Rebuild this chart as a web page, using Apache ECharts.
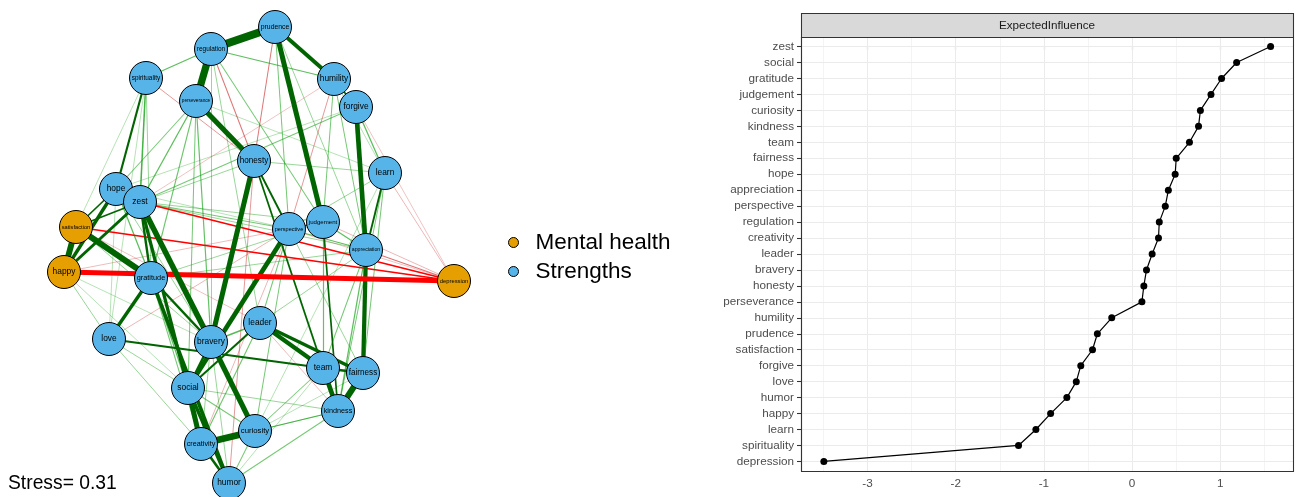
<!DOCTYPE html>
<html><head><meta charset="utf-8">
<script src="https://cdn.jsdelivr.net/npm/echarts@6/dist/echarts.min.js"></script>
<style>html,body{margin:0;padding:0;background:#fff}#c{width:1296px;height:497px}</style>
</head><body><div id="c"></div>
<script>
// ---------- Centrality plot data ----------
const categories = ['zest','social','gratitude','judgement','curiosity','kindness','team','fairness','hope','appreciation','perspective','regulation','creativity','leader','bravery','honesty','perseverance','humility','prudence','satisfaction','forgive','love','humor','happy','learn','spirituality','depression'];
const expectedInfluence = [1.57,1.185,1.014,0.894,0.774,0.753,0.65,0.50,0.488,0.411,0.376,0.308,0.299,0.227,0.163,0.133,0.111,-0.231,-0.394,-0.449,-0.582,-0.633,-0.740,-0.924,-1.091,-1.288,-3.495];
const xTickValues = [-3,-2,-1,0,1];
const xMinorValues = [-3.5,-2.5,-1.5,-0.5,0.5,1.5];
const stripTitle = 'ExpectedInfluence';

// ---------- Network data ----------
const groupNames = ['Mental health','Strengths'];
const nodeNames = ['prudence','regulation','spirituality','humility','perseverance','forgive','honesty','learn','hope','zest','satisfaction','judgement','perspective','appreciation','happy','gratitude','depression','leader','love','bravery','team','fairness','social','kindness','curiosity','creativity','humor'];
const nodeGroup = [1,1,1,1,1,1,1,1,1,1,0,1,1,1,0,1,0,1,1,1,1,1,1,1,1,1,1];
const nodeX = [275,211,146,334,196,356,254,385,116,140,76,323,289,366,64,151,454,260,109,211,323,363,188,338,255,201,229];
const nodeY = [27,49,78,79,101,107,161,173,189,202,227,222,229,250,272,278,281,323,339,342,368,373,388,411,431,444,483];
const edges = [
 ['regulation','prudence',0.95],['regulation','perseverance',0.85],['creativity','curiosity',0.8],
 ['satisfaction','gratitude',0.7],['happy','satisfaction',0.7],['fairness','kindness',0.7],
 ['zest','bravery',0.65],['happy','depression',-0.6],['perseverance','honesty',0.6],
 ['prudence','judgement',0.6],['bravery','curiosity',0.6],['honesty','bravery',0.6],
 ['social','creativity',0.6],['team','kindness',0.55],['perspective','social',0.55],
 ['forgive','appreciation',0.55],['appreciation','fairness',0.5],['leader','team',0.5],
 ['prudence','humility',0.45],['gratitude','humor',0.42],['zest','social',0.38],['leader','fairness',0.4],
 ['hope','happy',0.4],['gratitude','love',0.4],['social','humor',0.4],['zest','happy',0.35],
 ['creativity','humor',0.3],['gratitude','bravery',0.3],['team','fairness',0.3],
 ['bravery','social',0.3],['zest','gratitude',0.28],['love','team',0.26],
 ['spirituality','hope',0.25],['leader','social',0.24],['honesty','perspective',0.22],
 ['learn','appreciation',0.22],['honesty','team',0.2],['judgement','kindness',0.2],
 ['perspective','judgement',0.2],['satisfaction','hope',0.2],['satisfaction','zest',0.2],
 ['forgive','humility',0.2],['zest','depression',-0.2],['satisfaction','depression',-0.2],
 ['regulation','humility',0.15],['regulation','spirituality',0.15],['spirituality','zest',0.18],
 ['perseverance','zest',0.15],['perseverance','hope',0.12],['perseverance','bravery',0.14],
 ['perseverance','social',0.12],['perseverance','gratitude',0.13],['perseverance','learn',0.08],
 ['judgement','appreciation',0.15],['judgement','team',0.14],['leader','bravery',0.16],
 ['leader','creativity',0.13],['curiosity','kindness',0.15],['humor','kindness',0.12],
 ['curiosity','team',0.12],['love','happy',0.1],['love','social',0.1],['love','creativity',0.1],
 ['love','hope',0.08],['forgive','learn',0.15],['forgive','zest',0.12],['forgive','hope',0.08],
 ['humility','appreciation',0.12],['humility','judgement',0.12],['humility','learn',0.08],
 ['prudence','perspective',0.12],['prudence','appreciation',0.1],['regulation','judgement',0.12],
 ['regulation','leader',0.1],['regulation','bravery',0.1],['spirituality','gratitude',0.1],
 ['spirituality','love',0.08],['spirituality','satisfaction',0.08],['honesty','fairness',0.1],
 ['honesty','kindness',0.1],['honesty','zest',0.1],['honesty','learn',0.1],
 ['perspective','appreciation',0.15],['perspective','leader',0.12],['perspective','curiosity',0.12],
 ['appreciation','kindness',0.15],['appreciation','team',0.12],['appreciation','leader',0.1],
 ['learn','perspective',0.1],['learn','kindness',0.12],['learn','fairness',0.12],['learn','curiosity',0.08],
 ['social','curiosity',0.12],['social','kindness',0.1],['creativity','kindness',0.08],
 ['creativity','bravery',0.1],['humor','curiosity',0.12],['humor','bravery',0.1],['humor','team',0.08],
 ['gratitude','social',0.15],['gratitude','creativity',0.12],['gratitude','judgement',0.1],
 ['gratitude','appreciation',0.1],['hope','bravery',0.1],['hope','gratitude',0.15],
 ['hope','perspective',0.08],['zest','perspective',0.12],['zest','judgement',0.1],
 ['zest','appreciation',0.1],['happy','bravery',0.08],['happy','social',0.08],
 ['satisfaction','bravery',0.1],['fairness','curiosity',0.08],
 ['regulation','honesty',-0.12],['prudence','honesty',-0.12],['spirituality','honesty',-0.1],
 ['humility','perspective',-0.1],['humility','zest',-0.06],['honesty','humor',-0.1],
 ['depression','appreciation',-0.12],['depression','judgement',-0.08],['depression','learn',-0.08],
 ['depression','forgive',-0.06],['depression','perspective',-0.06],['love','perspective',-0.08],
 ['happy','perspective',-0.07],['leader','kindness',-0.07],['satisfaction','leader',-0.06],
 ['creativity','perspective',-0.08]
];
const stressText = 'Stress= 0.31';

// ---------- styling helpers ----------
const FONT = '"Liberation Sans", Arial, Helvetica, sans-serif';
const groupColors = ['#E69F00', '#56B4E9'];
const ctx = document.createElement('canvas').getContext('2d');
function nodeLabelSize(name) {
  ctx.font = '10px "Liberation Sans", Arial';
  const em = ctx.measureText(name).width / 10;
  return Math.min(8.4, 28.5 / em);
}
const CUT = 0.2;
function edgeStyle(w) {
  const a = Math.abs(w);
  const width = Math.max(0.7, a * 8.5);
  let color;
  if (a >= CUT) color = w > 0 ? '#006400' : '#FF0000';
  else {
    const al = (0.15 + 0.65 * a / CUT).toFixed(3);
    color = w > 0 ? 'rgba(0,153,0,' + al + ')' : 'rgba(191,0,0,' + al + ')';
  }
  return { width: width, color: color, curveness: 0, opacity: 1 };
}
const idx = {};
nodeNames.forEach((n, i) => idx[n] = i);
const links = edges.slice().sort((a, b) => Math.abs(a[2]) - Math.abs(b[2])).map(e => ({
  source: idx[e[0]], target: idx[e[1]], lineStyle: edgeStyle(e[2])
}));

const P = { left: 801, top: 37, width: 492, height: 434 };
const gridMarks = []
  .concat(categories.map((c, i) => ({ yAxis: i, lineStyle: { color: '#EBEBEB', width: 1.07, type: 'solid' } })))
  .concat(xTickValues.map(v => ({ xAxis: v, lineStyle: { color: '#EBEBEB', width: 1.07, type: 'solid' } })))
  .concat(xMinorValues.map(v => ({ xAxis: v, lineStyle: { color: '#EBEBEB', width: 0.55, type: 'solid' } })));

const chart = echarts.init(document.getElementById('c'), null, { renderer: 'canvas' });
chart.setOption({
  animation: false,
  backgroundColor: '#fff',
  textStyle: { fontFamily: FONT },
  grid: [
    { left: P.left, top: P.top, width: P.width, height: P.height, show: false },
    { left: 0, top: 0, width: 500, height: 497, show: false }
  ],
  xAxis: [
    { gridIndex: 0, type: 'value', min: -3.754, max: 1.824, position: 'bottom',
      axisLine: { show: true, lineStyle: { color: '#333', width: 1.07 } },
      axisTick: { show: true, length: 4, customValues: xTickValues, lineStyle: { color: '#333', width: 1.07 } },
      axisLabel: { customValues: xTickValues, margin: 7, color: '#4D4D4D', fontSize: 11.7, fontFamily: FONT },
      splitLine: { show: false } },
    { gridIndex: 1, type: 'value', min: 0, max: 500, show: false }
  ],
  yAxis: [
    { gridIndex: 0, type: 'value', min: -0.6, max: 26.6, inverse: true,
      axisLine: { show: true, onZero: false, lineStyle: { color: '#333', width: 1.07 } },
      axisTick: { show: true, length: 4, customValues: categories.map((c, i) => i), lineStyle: { color: '#333', width: 1.07 } },
      axisLabel: { customValues: categories.map((c, i) => i), formatter: v => categories[Math.round(v)] || '',
        margin: 7, color: '#4D4D4D', fontSize: 11.7, fontFamily: FONT },
      splitLine: { show: false } },
    { gridIndex: 1, type: 'value', min: 0, max: 497, inverse: true, show: false }
  ],
  legend: {
    data: groupNames, orient: 'vertical', left: 508, top: 231, padding: 0, icon: 'circle',
    itemWidth: 10, itemHeight: 10, itemGap: 6, selectedMode: false,
    itemStyle: { borderColor: '#000', borderWidth: 1 },
    textStyle: { fontSize: 22.5, lineHeight: 22, color: '#000', fontFamily: FONT, padding: [0, 0, 0, 12] }
  },
  graphic: [
    { type: 'rect', z: 100, shape: { x: P.left + 0.5, y: 13.5, width: P.width, height: 24 },
      style: { fill: '#D9D9D9', stroke: '#333', lineWidth: 1.07 } },
    { type: 'text', z: 101, x: P.left + P.width / 2, y: 25.5,
      style: { text: stripTitle, fill: '#1A1A1A', font: '11.7px ' + FONT, textAlign: 'center', textVerticalAlign: 'middle' } },
    { type: 'rect', z: 100, shape: { x: P.left + 0.5, y: P.top + 0.5, width: P.width, height: P.height },
      style: { fill: 'none', stroke: '#333', lineWidth: 1.07 } },
    { type: 'text', z: 101, x: 8, y: 484,
      style: { text: stressText, fill: '#000', font: '19.3px ' + FONT, textAlign: 'left', textVerticalAlign: 'middle' } }
  ],
  series: [
    { type: 'line', xAxisIndex: 0, yAxisIndex: 0, data: [], z: 1, silent: true,
      markLine: { silent: true, symbol: ['none', 'none'], label: { show: false }, animation: false, data: gridMarks } },
    { type: 'line', xAxisIndex: 0, yAxisIndex: 0, z: 5, silent: true,
      data: categories.map((c, i) => [expectedInfluence[i], i]),
      symbol: 'circle', symbolSize: 7, showSymbol: true,
      itemStyle: { color: '#000' }, lineStyle: { color: '#000', width: 1.2 } },
    { type: 'graph', layout: 'none', coordinateSystem: 'cartesian2d', xAxisIndex: 1, yAxisIndex: 1,
      symbol: 'circle', symbolSize: 33, silent: true, z: 3,
      categories: groupNames.map((n, i) => ({ name: n, itemStyle: { color: groupColors[i] } })),
      itemStyle: { borderColor: '#000', borderWidth: 1 },
      label: { show: true, position: 'inside', color: '#000', fontFamily: FONT },
      emphasis: { disabled: true },
      data: nodeNames.map((n, i) => ({ name: n, value: [nodeX[i], nodeY[i]], category: nodeGroup[i],
        label: { fontSize: nodeLabelSize(n) } })),
      links: links,
      lineStyle: { opacity: 1, curveness: 0 } }
  ]
});
</script></body></html>
